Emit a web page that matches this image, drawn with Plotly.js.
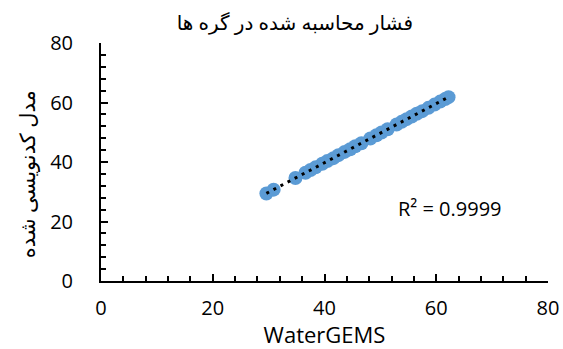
<!DOCTYPE html>
<html>
<head>
<meta charset="utf-8">
<script src="https://cdn.plot.ly/plotly-3.0.1.min.js"></script>
<style>
  html, body { margin: 0; padding: 0; background: #ffffff; }
  #chart { width: 563px; height: 349px; }
</style>
</head>
<body>
<div id="chart"></div>
<script>
// Node pressures: WaterGEMS result vs. the coded model
const waterGems = [29.6, 30.9, 34.8, 36.6, 37.5, 38.4, 39.6, 40.5, 41.6, 42.5, 43.6, 44.6, 45.5, 46.6, 48.2,
                   49.3, 50.2, 51.3, 52.9, 53.8, 54.7, 55.6, 56.5, 57.5, 58.6, 59.7, 60.7, 61.6, 62.2];
const codedModel = [29.4, 30.7, 34.6, 36.4, 37.3, 38.2, 39.4, 40.3, 41.3, 42.3, 43.4, 44.3, 45.3, 46.3, 47.9,
                    49.0, 49.9, 51.0, 52.6, 53.5, 54.4, 55.3, 56.2, 57.1, 58.2, 59.3, 60.3, 61.2, 61.8];
const axisTicks = [0, 20, 40, 60, 80];

const chartTitle = 'فشار محاسبه شده در گره ها';
const xTitle = 'WaterGEMS';
const yTitle = 'مدل کدنویسی شده';
const r2Label = 'R² = 0.9999';

// least-squares linear trendline through the points
function linearFit(xs, ys) {
  const n = xs.length;
  const mx = xs.reduce((a, b) => a + b, 0) / n;
  const my = ys.reduce((a, b) => a + b, 0) / n;
  let sxy = 0, sxx = 0;
  for (let i = 0; i < n; i++) {
    sxy += (xs[i] - mx) * (ys[i] - my);
    sxx += (xs[i] - mx) * (xs[i] - mx);
  }
  const slope = sxy / sxx;
  return { slope: slope, intercept: my - slope * mx };
}
const fit = linearFit(waterGems, codedModel);
const xMin = Math.min(...waterGems), xMax = Math.max(...waterGems);
const trendX = [xMin, xMax];
const trendY = trendX.map(v => fit.slope * v + fit.intercept);

const FONT = '"Open Sans", "DejaVu Sans", sans-serif';

const traces = [
  {
    x: waterGems, y: codedModel,
    type: 'scatter', mode: 'markers',
    marker: { color: '#5b9bd5', size: 14, line: { width: 0 } },
    hoverinfo: 'x+y', showlegend: false
  },
  {
    x: trendX, y: trendY,
    type: 'scatter', mode: 'lines',
    line: { color: '#000000', width: 3, dash: '3px,5px' },
    hoverinfo: 'skip', showlegend: false
  }
];

const axisCommon = {
  range: [0, 80],
  tickvals: axisTicks,
  ticktext: axisTicks.map(String),
  showgrid: false, zeroline: false,
  showline: true, linecolor: '#000000', linewidth: 2,
  ticks: 'inside', ticklen: 7, tickwidth: 2, tickcolor: '#000000',
  minor: { dtick: 4, ticks: 'inside', ticklen: 5, tickwidth: 2, tickcolor: '#000000', showgrid: false },
  tickfont: { family: FONT, size: 20, color: '#000000' },
  fixedrange: true
};

const layout = {
  width: 563, height: 349,
  margin: { l: 101, r: 15, t: 43, b: 68 },
  paper_bgcolor: '#ffffff', plot_bgcolor: '#ffffff',
  title: {
    text: chartTitle,
    font: { family: FONT, size: 20, color: '#000000' },
    xref: 'container', yref: 'container',
    x: 0.7336, y: 0.935, xanchor: 'right', yanchor: 'middle'
  },
  xaxis: Object.assign({}, axisCommon, {
    ticklabelstandoff: 8,
    title: { text: xTitle, font: { family: FONT, size: 22, color: '#000000' }, standoff: 8 }
  }),
  yaxis: Object.assign({}, axisCommon, {
    ticklabelstandoff: 22
  }),
  annotations: [
    {
      text: yTitle, textangle: -90,
      xref: 'paper', yref: 'paper',
      x: -0.165, y: 0.45, xanchor: 'center', yanchor: 'middle',
      showarrow: false,
      font: { family: FONT, size: 21, color: '#000000' }
    },
    {
      text: r2Label,
      xref: 'x', yref: 'y',
      x: 62.5, y: 24.5, xanchor: 'center', yanchor: 'middle',
      showarrow: false,
      font: { family: FONT, size: 20, color: '#000000' }
    }
  ]
};

Plotly.newPlot('chart', traces, layout, { displayModeBar: false, staticPlot: true });
</script>
</body>
</html>
